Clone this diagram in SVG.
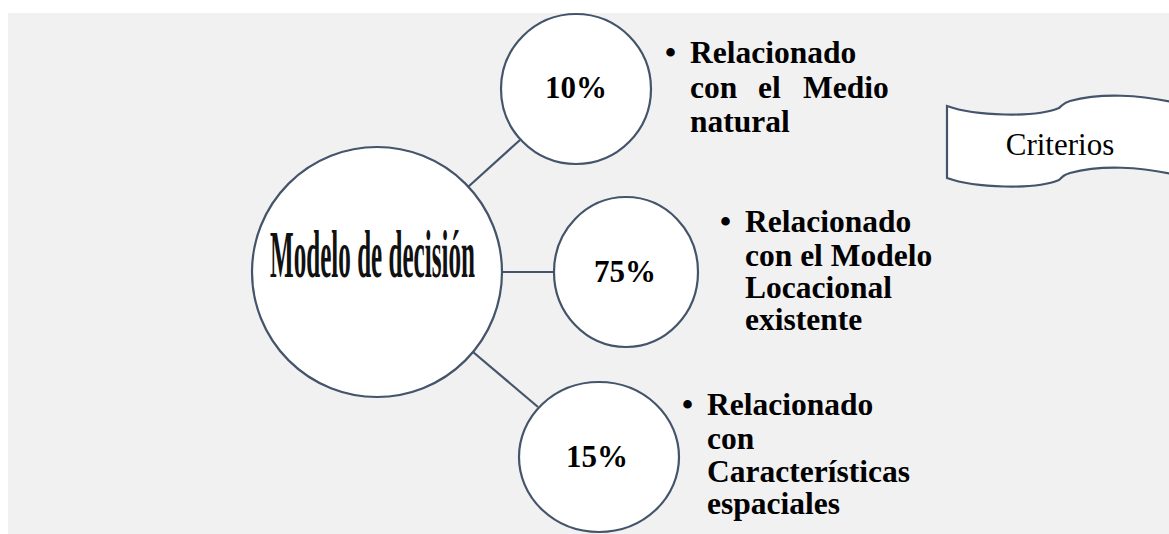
<svg xmlns="http://www.w3.org/2000/svg" width="1169" height="534" viewBox="0 0 1169 534">
<style>
.node{fill:#ffffff;stroke:#44546a;stroke-width:2.2}
.conn{stroke:#44546a;stroke-width:2.2;fill:none}
.pct{font-family:"Liberation Serif","Times New Roman",serif;font-weight:bold;font-size:31px;fill:#000;text-anchor:middle}
.bul{font-family:"Liberation Serif","Times New Roman",serif;font-weight:bold;font-size:31.5px;fill:#000}
</style>
<rect x="0" y="0" width="1169" height="534" fill="#ffffff"/>
<rect x="8" y="13" width="1161" height="521" fill="#f1f1f1"/>
<g id="connectors">
<line class="conn" x1="468" y1="187" x2="520" y2="140"/>
<line class="conn" x1="502" y1="272" x2="554" y2="272"/>
<line class="conn" x1="473" y1="352" x2="538" y2="407"/>
</g>
<g id="modelo">
<circle class="node" cx="377" cy="272" r="125"/>
<text transform="translate(270,277) scale(0.37,1)" x="0" y="0" font-family="Liberation Serif,'Times New Roman',serif" font-size="68" font-weight="bold" textLength="554" lengthAdjust="spacingAndGlyphs" fill="#111">Modelo de decisión</text>
</g>
<g id="n10">
<circle class="node" cx="576" cy="89" r="75"/>
<text class="pct" x="576" y="98">10%</text>
</g>
<g id="n75">
<ellipse class="node" cx="626" cy="272" rx="72" ry="75"/>
<text class="pct" x="625" y="282">75%</text>
</g>
<g id="n15">
<ellipse class="node" cx="599" cy="457" rx="80" ry="75"/>
<text class="pct" x="597" y="467">15%</text>
</g>
<g id="texto10">
<text class="bul"><tspan x="665" y="63">• </tspan><tspan x="690" y="63">Relacionado</tspan><tspan x="690" y="98">con</tspan><tspan x="758" y="98">el</tspan><tspan x="803" y="98">Medio</tspan><tspan x="690" y="132">natural</tspan></text>
</g>
<g id="texto75">
<text class="bul"><tspan x="720" y="232">• </tspan><tspan x="745" y="232">Relacionado</tspan><tspan x="745" y="266">con el Modelo</tspan><tspan x="745" y="298">Locacional</tspan><tspan x="745" y="330">existente</tspan></text>
</g>
<g id="texto15">
<text class="bul"><tspan x="682" y="415">• </tspan><tspan x="707" y="415">Relacionado</tspan><tspan x="707" y="449">con</tspan><tspan x="707" y="482">Características</tspan><tspan x="707" y="514">espaciales</tspan></text>
</g>
<g id="criterios">
<path class="node" d="M947,106 C975,116 1035,118 1059,108 C1063,105 1063,103 1070,101 C1100,93 1140,94 1180,104 L1180,176 C1140,166 1100,165 1070,173 C1064,175 1063,176 1059,180 C1035,190 975,188 947,178 Z"/>
<text x="1060" y="155" font-family="Liberation Serif,'Times New Roman',serif" font-size="31" text-anchor="middle" fill="#000">Criterios</text>
</g>
</svg>
